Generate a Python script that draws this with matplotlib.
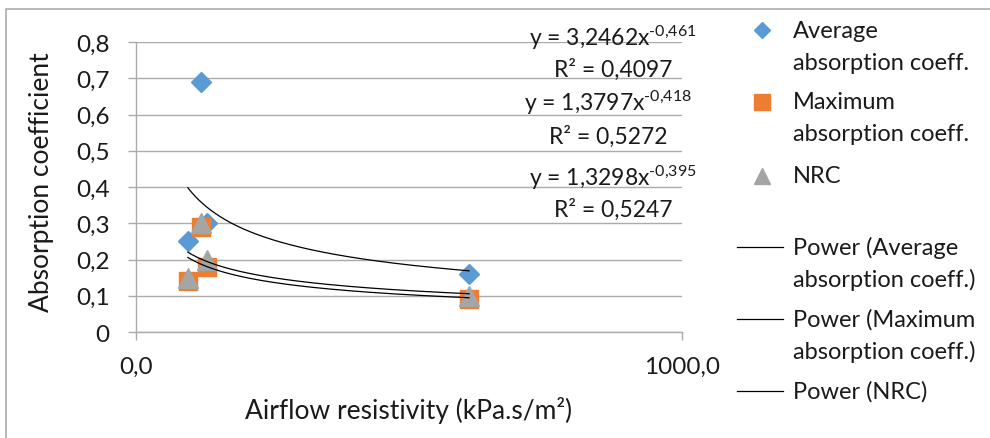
import numpy as np
import matplotlib
matplotlib.use("Agg")
import matplotlib.pyplot as plt
from matplotlib.lines import Line2D

# ---------------- data ----------------
airflow = [95, 119, 130, 610]                 # kPa.s/m2
avg_abs = [0.25, 0.69, 0.30, 0.16]
max_abs = [0.14, 0.29, 0.18, 0.09]
nrc = [0.15, 0.30, 0.20, 0.10]

# power trendline coefficients y = a * x^b and R^2 as printed on the chart
fit_a = [3.2462, 1.3797, 1.3298]
fit_b = [-0.461, -0.418, -0.395]
fit_r2 = [0.4097, 0.5272, 0.5247]

series_names = ["Average\nabsorption coeff.", "Maximum\nabsorption coeff.", "NRC"]
trend_names = ["Power (Average\nabsorption coeff.)", "Power (Maximum\nabsorption coeff.)", "Power (NRC)"]
x_ticks = [0, 1000]
x_ticklabels = ["0,0", "1000,0"]
y_ticks = [0, 0.1, 0.2, 0.3, 0.4, 0.5, 0.6, 0.7, 0.8]
y_ticklabels = ["0", "0,1", "0,2", "0,3", "0,4", "0,5", "0,6", "0,7", "0,8"]

# ---------------- style ----------------
FONT = "Lato"
plt.rcParams["font.family"] = [FONT, "DejaVu Sans"]
plt.rcParams["mathtext.fontset"] = "custom"
plt.rcParams["mathtext.rm"] = FONT
plt.rcParams["mathtext.it"] = FONT
plt.rcParams["mathtext.bf"] = FONT
FS_TICK = 17.5
FS_LEG = 17
FS_EQ = 16.5
FS_TITLE = 19
TXT = "#1a1a1a"
GRID = "#ABABAB"
BLUE, ORANGE, GRAY = "#5B9BD5", "#ED7D31", "#A5A5A5"

W, H = 990, 439
fig = plt.figure(figsize=(W / 100, H / 100), dpi=100)
ax = fig.add_axes([136 / W, 1 - 333 / H, 546 / W, 290 / H])

ax.set_xlim(0, 1000)
ax.set_ylim(0, 0.8)
ax.set_xticks(x_ticks)
ax.set_xticklabels(x_ticklabels, fontsize=FS_TICK, color=TXT)
ax.set_yticks(y_ticks)
ax.set_yticklabels(y_ticklabels, fontsize=FS_TICK, color=TXT)
ax.grid(axis="y", color=GRID, linewidth=1.0)
ax.set_axisbelow(True)
for s in ["top", "right"]:
    ax.spines[s].set_visible(False)
for s in ["left", "bottom"]:
    ax.spines[s].set_color(GRID)
    ax.spines[s].set_linewidth(1.0)
ax.tick_params(axis="y", length=6, color=GRID, width=1.0, pad=13)
ax.tick_params(axis="x", length=6, color=GRID, width=1.0, pad=11)

ax.set_xlabel("Airflow resistivity (kPa.s/m²)", fontsize=FS_TITLE, color=TXT, va="center")
ax.xaxis.set_label_coords((409 - 136) / 546, (333 - 410) / 290)
ax.set_ylabel("Absorption coefficient", fontsize=FS_TITLE, color=TXT, va="center", ha="center")
ax.yaxis.set_label_coords((42 - 136) / 546, (333 - 182) / 290)

# scatter series
ax.plot(airflow, avg_abs, linestyle="none", marker="D", ms=10, color=BLUE, mec=BLUE, zorder=3)
ax.plot(airflow, max_abs, linestyle="none", marker="s", ms=13.5, color=ORANGE, mec=ORANGE, zorder=4)
ax.plot(airflow, nrc, linestyle="none", marker="^", ms=14.5, color=GRAY, mec=GRAY, zorder=5)

# power trendlines
xs = np.linspace(min(airflow), max(airflow), 300)
for a, b in zip(fit_a, fit_b):
    ax.plot(xs, a * xs ** b, color="black", linewidth=0.9, zorder=6)

# ---------------- overlay in pixel coordinates ----------------
ov = fig.add_axes([0, 0, 1, 1], zorder=10)
ov.set_xlim(0, W)
ov.set_ylim(H, 0)
ov.axis("off")
ov.patch.set_alpha(0)

# chart-area border (left and top)
ov.plot([6, 6, W], [H, 10, 10], color=GRID, linewidth=1.2, clip_on=False)

def fmt(v, n):
    return f"{v:.{n}f}".replace(".", ",")

eq_pos = [(613, 38, 70), (608, 103, 137), (613, 178, 210)]
for (cx, ye, yr), a, b, r2 in zip(eq_pos, fit_a, fit_b, fit_r2):
    ov.text(cx, ye, "y = " + fmt(a, 4) + "x$^{\\text{" + fmt(b, 3) + "}}$",
            ha="center", va="center", fontsize=FS_EQ, color=TXT)
    ov.text(cx, yr, "R² = " + fmt(r2, 4), ha="center", va="center", fontsize=FS_EQ, color=TXT)

# legend
TX = 793
LINE_GAP = 32
marker_rows = [31, 103, 177]
markers = [("D", 8, BLUE), ("s", 11, ORANGE), ("^", 12, GRAY)]
for y0, name, (m, ms, c) in zip(marker_rows, series_names, markers):
    ov.add_line(Line2D([762], [y0], marker=m, ms=ms, color=c, mec=c, linestyle="none"))
    for i, line in enumerate(name.split("\n")):
        ov.text(TX, y0 + i * LINE_GAP, line, ha="left", va="center", fontsize=FS_LEG, color=TXT)

trend_rows = [248, 320, 392]
for y0, name in zip(trend_rows, trend_names):
    ov.add_line(Line2D([737, 783], [y0, y0], color="black", linewidth=0.9))
    for i, line in enumerate(name.split("\n")):
        ov.text(TX, y0 + i * LINE_GAP, line, ha="left", va="center", fontsize=FS_LEG, color=TXT)

fig.savefig("out.png", dpi=100, facecolor="white")
